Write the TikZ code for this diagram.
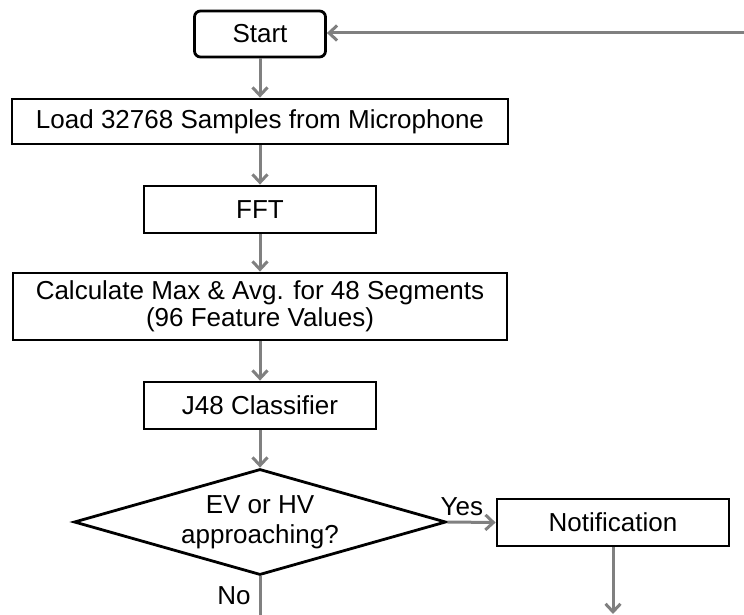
\documentclass[tikz,border=0pt]{standalone}
\usepackage{fontspec}
\setmainfont{Liberation Sans}
\usetikzlibrary{arrows.meta,shapes.geometric}

\definecolor{flowgray}{RGB}{128,128,128}

\tikzset{
    box/.style={draw=black, line width=2.8pt, minimum width=232pt, minimum height=47pt, inner sep=0pt, align=center},
    decision/.style={draw=black, line width=2.8pt, diamond, aspect=3.5, inner sep=0pt, minimum width=372pt, minimum height=106pt, align=center},
    flow/.style={draw=flowgray, line width=3pt, -{Straight Barb[length=8pt,width=15pt,line width=3pt]}},
    line/.style={draw=flowgray, line width=3pt},
    lbl/.style={inner sep=2pt}
}

\begin{document}
\begin{tikzpicture}[x=1pt,y=-1pt,font=\fontsize{26}{27}\selectfont]

        \useasboundingbox (0,0) rectangle (744,615);

        \node[box,rounded corners=6pt,minimum width=131pt,minimum height=46pt] (start) at (260,34) {Start};
        \node[box,minimum width=496pt,minimum height=45pt] (load) at (260,121.5) {Load 32768 Samples from Microphone};
        \node[box] (fft) at (260,209.5) {FFT};
        \node[box,minimum width=494pt,minimum height=67pt] (calc) at (260,306.5) {Calculate Max \& Avg. for 48 Segments\\(96 Feature Values)};
        \node[box] (j48) at (260,405.5) {J48 Classifier};
        \node[decision,font=\fontsize{26}{30}\selectfont] (approach) at (260,522) {EV or HV\\approaching?};
        \node[box] (notify) at (613,522.5) {Notification};

        \coordinate (back) at (744,33);
        \coordinate (noend) at (260,615);
        \coordinate (notifyend) at (613,614);

        \draw[flow] (back) -- (start.east |- back);
        \draw[flow] (start) -- (load);
        \draw[flow] (load) -- (fft);
        \draw[flow] (fft) -- (calc);
        \draw[flow] (calc) -- (j48);
        \draw[flow] (j48) -- (approach);
        \draw[flow] (approach.east) -- node[lbl,above,pos=0.3,yshift=3pt] {Yes} (notify.west);
        \draw[line] (approach.south) -- node[lbl,left,xshift=-6pt] {No} (noend);
        \draw[flow] (notify) -- (notifyend);

        \end{tikzpicture}
\end{document}
